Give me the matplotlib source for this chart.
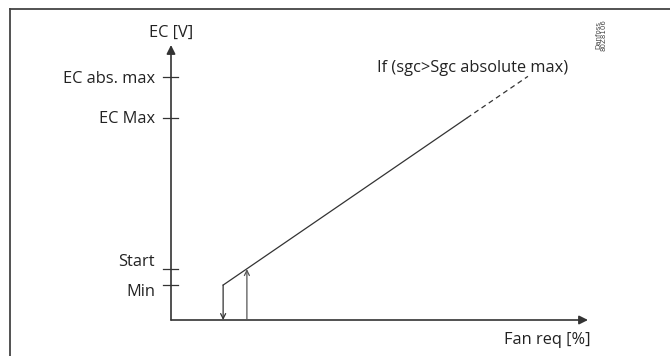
"""
EC fan voltage vs fan request diagram
"""

import matplotlib.pyplot as plt
from matplotlib.lines import Line2D

plt.rcParams['font.family'] = ['Open Sans', 'DejaVu Sans']

# levels on the EC [V] axis
ec_levels = [1.27, 1.85, 7.35, 8.84]
ec_labels = ['Min', 'Start', 'EC Max', 'EC abs. max']
# label offsets (Start above, Min below its tick)
label_shift = [-0.25, 0.25, -0.03, -0.07]

# fan request [%] where fan stops / starts
fan_stop = 12.5
fan_start = 18.2

# regulation line: solid up to EC Max, dashed beyond
solid_fan = [12.5, 71.0]
solid_ec = [1.27, 7.35]
dash_fan = [71.0, 85.6]
dash_ec = [7.35, 8.86]

ink = '#333333'
fs = 11.8

fig = plt.figure(figsize=(6.7, 3.56), dpi=100)
W, H = 670, 356
ax = fig.add_axes([171 / W, (H - 320) / H, (588 - 171) / W, (320 - 45) / H])
ax.set_xlim(0, 100)
ax.set_ylim(0, 10)
ax.axis('off')

# frame: top and left line only
fig.add_artist(Line2D([10 / W, 1], [1 - 9 / H, 1 - 9 / H], color='#444444', lw=1.3))
fig.add_artist(Line2D([10 / W, 10 / W], [0, 1 - 9 / H], color='#444444', lw=1.3))

# axes with filled arrow heads
head = dict(arrowstyle='-|>', color=ink, lw=1.2, mutation_scale=13,
            shrinkA=0, shrinkB=0)
ax.annotate('', xy=(0, 10), xytext=(0, 0), arrowprops=head, annotation_clip=False)
ax.annotate('', xy=(100, 0), xytext=(0, 0), arrowprops=head, annotation_clip=False)

# tick marks and labels
ytr = ax.get_yaxis_transform()
for lvl, lab, sh in zip(ec_levels, ec_labels, label_shift):
    ax.plot([-0.019, 0.017], [lvl, lvl], color=ink, lw=0.9,
            transform=ytr, clip_on=False)
    ax.text(-0.038, lvl + sh, lab, transform=ytr, ha='right', va='center',
            fontsize=fs, color='#222222')

ax.text(0, 10.45, 'EC [V]', ha='center', va='center', fontsize=fs, color='#222222')
ax.text(90.2, -0.72, 'Fan req [%]', ha='center', va='center', fontsize=fs,
        color='#222222')
ax.text(72.2, 9.15, 'If (sgc>Sgc absolute max)', ha='center', va='center',
        fontsize=fs, color='#222222', clip_on=False)

# regulation line
ax.plot(solid_fan, solid_ec, color=ink, lw=0.9, clip_on=False)
ax.plot(dash_fan, dash_ec, color=ink, lw=0.9, ls=(0, (4, 3)), clip_on=False)

# stop / start arrows
thin = dict(arrowstyle='->', color=ink, lw=0.9, mutation_scale=9,
            shrinkA=0, shrinkB=0)
ax.annotate('', xy=(fan_stop, 0), xytext=(fan_stop, ec_levels[0]), arrowprops=thin)
ax.annotate('', xy=(fan_start, ec_levels[1]), xytext=(fan_start, 0),
            arrowprops=dict(thin, color='#555555'))

# drawing reference
fig.text(601 / W, 1 - 35 / H, 'Danfoss\n80Z8106', rotation=90, ha='center',
         va='center', fontsize=5, color='#444444', family='DejaVu Sans',
         linespacing=1.0)

fig.savefig('out.png', dpi=100)
